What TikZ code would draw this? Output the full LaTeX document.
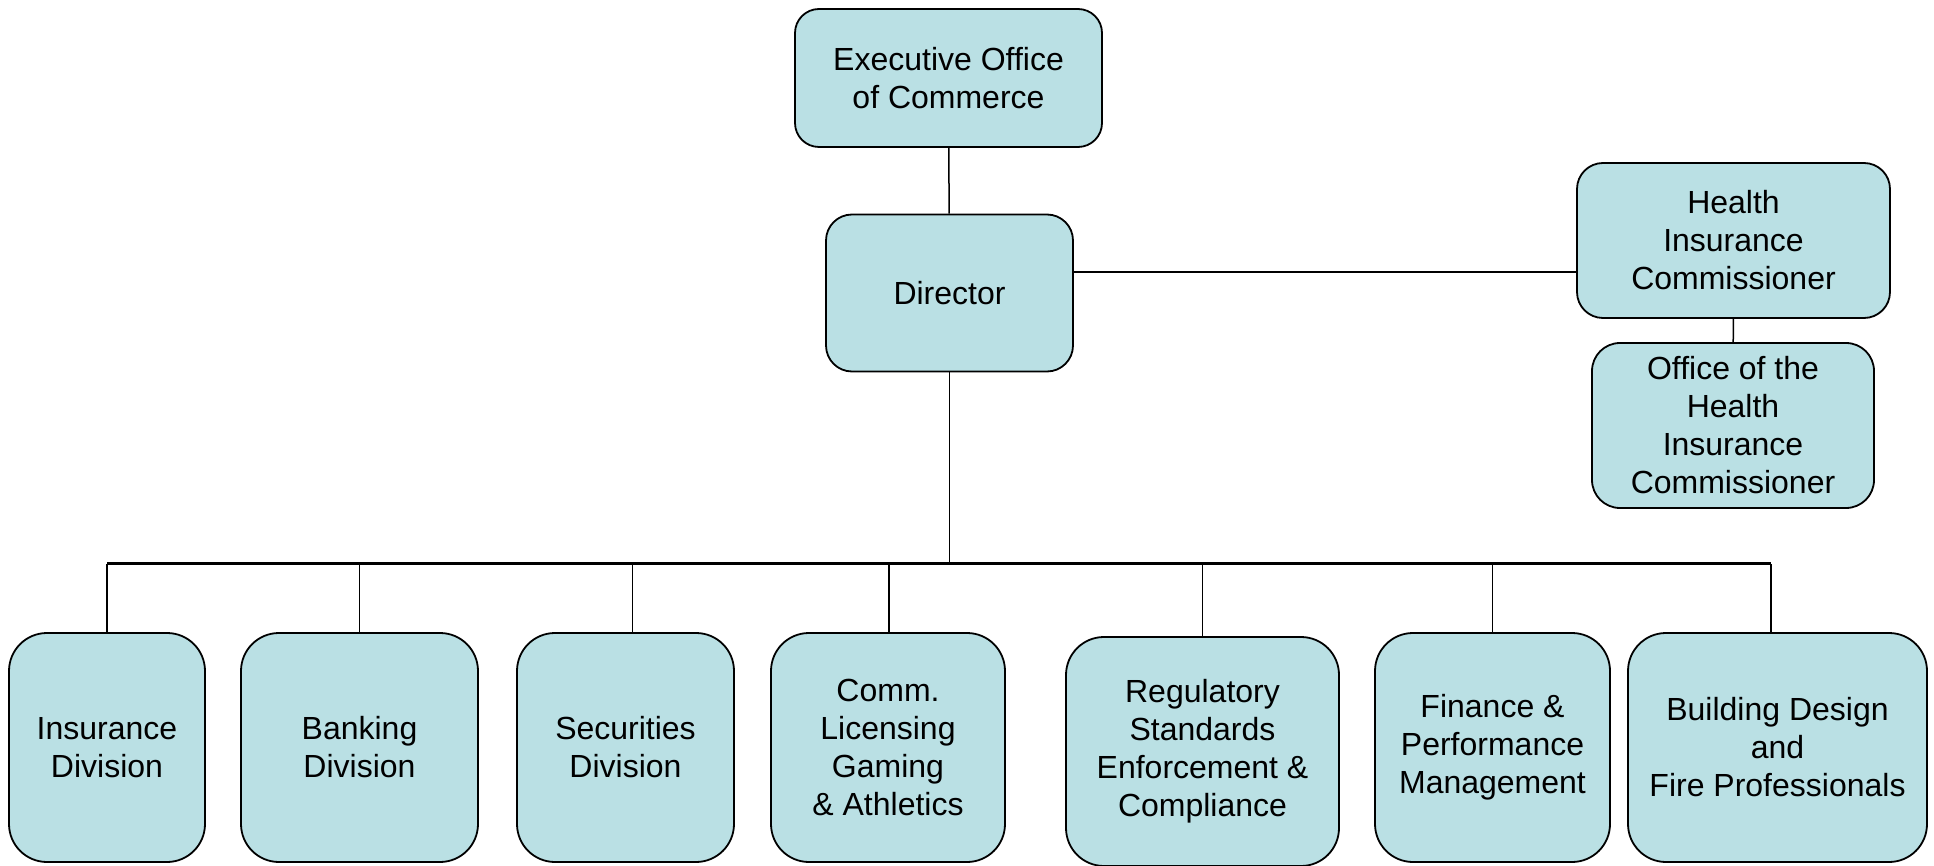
\documentclass[tikz,border=0pt]{standalone}
\usepackage{fontspec}
\setmainfont{Liberation Sans}
\usepackage{tikz}
\usetikzlibrary{positioning,calc}
\usepackage{xcolor}

\definecolor{unitfill}{RGB}{186,224,228}

\begin{document}
\begin{tikzpicture}[
    x=0.5pt, y=-0.5pt,
    unit/.style={rectangle, rounded corners=12pt, draw=black, fill=unitfill, line width=0.9pt, align=center,
                 font=\fontsize{16}{19}\selectfont, inner sep=2pt},
    division/.style={unit, rounded corners=19pt, minimum height=114.5pt},
    link/.style={line width=0.75pt},
    busline/.style={line width=1.5pt}
]
\useasboundingbox (0,0) rectangle (1934,866);

% Top of the chart
\node[unit, minimum width=153.5pt, minimum height=69pt] (exec) at (948.5,78) {Executive Office\\of Commerce};
\node[unit, minimum width=123.5pt, minimum height=78.5pt, rounded corners=13pt] (director) at (949.5,293) {Director};

% Health insurance branch
\node[unit, minimum width=156.5pt, minimum height=77.5pt, rounded corners=13pt] (hic) at (1733.5,240.5) {Health\\Insurance\\Commissioner};
\node[unit, minimum width=141pt, minimum height=82.5pt, rounded corners=14pt] (ohic) at (1733,425.5) {Office of the\\Health\\Insurance\\Commissioner};

% Divisions
\node[division, minimum width=98pt] (insurance) at (107,747.5) {Insurance\\Division};
\node[division, minimum width=118.5pt] (banking) at (359.5,747.5) {Banking\\Division};
\node[division, minimum width=108.5pt] (securities) at (625.5,747.5) {Securities\\Division};
\node[division, minimum width=117pt] (licensing) at (888,747.5) {Comm.\\Licensing\\Gaming\\\& Athletics};
\node[division, minimum width=136.5pt] (regulatory) at (1202.5,751.5) {Regulatory\\Standards\\Enforcement \&\\Compliance};
\node[division, minimum width=117.5pt] (finance) at (1492.5,747.5) {Finance \&\\Performance\\Management};
\node[division, minimum width=149.5pt] (building) at (1777.5,747.5) {Building Design\\and\\Fire Professionals};

% Bus over the divisions
\coordinate (bus) at (0,563.5);
\draw[busline] (insurance.north |- bus) -- ([xshift=-3.25pt]building.north |- bus);

% Connectors
\draw[link] (exec) -- (director);
\draw[link] ([yshift=10.5pt]director.east) -- ([yshift=-15.75pt]hic.west);
\draw[link] (hic) -- (ohic);
\draw[link] (director.south) -- (director.south |- bus);
\foreach \d/\s in {insurance/0,banking/0,securities/3.5,licensing/0.5,regulatory/0,finance/0,building/-3.25}
    \draw[link] ([xshift=\s pt]\d.north) -- ([xshift=\s pt]\d.north |- bus);

\end{tikzpicture}
\end{document}
